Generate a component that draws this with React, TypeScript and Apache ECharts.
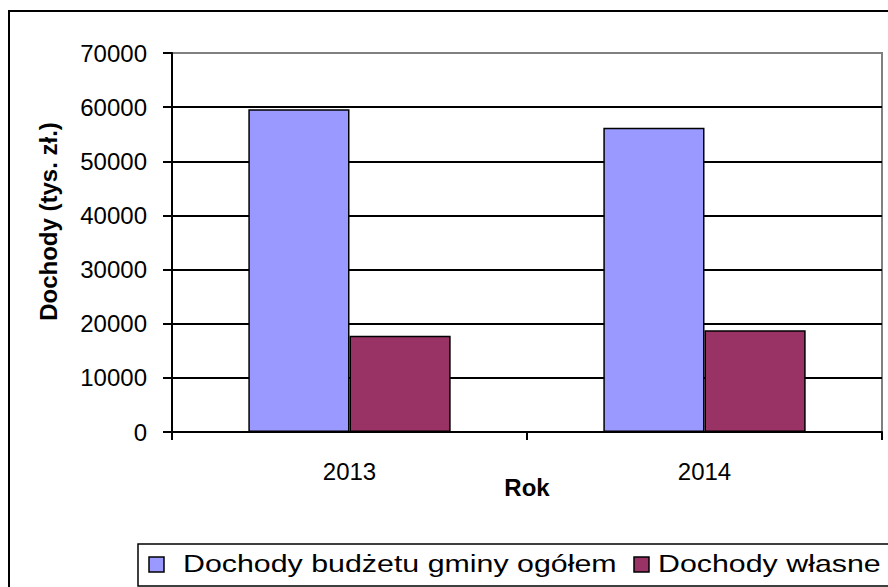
import React, { useEffect, useRef } from "react";
import * as echarts from "echarts";

const categories = ["2013", "2014"];
const seriesNames = ["Dochody budżetu gminy ogółem", "Dochody własne"];
const totalIncome = [59600, 56200];
const ownIncome = [17800, 18800];
const yTicks = { min: 0, max: 70000, interval: 10000 };
const colors = ["#9999FF", "#993366"];

export default function App() {
  const ref = useRef<HTMLDivElement>(null);
  useEffect(() => {
    if (!ref.current) return;
    const chart = echarts.init(ref.current, undefined, { renderer: "svg" });
    const font = "'Liberation Sans', Arial, sans-serif";
    const legendScale = 1.265;
    const option: any = {
      animation: false,
      backgroundColor: "#fff",
      textStyle: { fontFamily: font },
      grid: {
        left: 172,
        right: 6,
        top: 53,
        bottom: 155,
        show: true,
        borderColor: "#808080",
        borderWidth: 2,
        backgroundColor: "transparent",
      },
      xAxis: {
        type: "category",
        data: categories,
        name: "Rok",
        nameLocation: "middle",
        nameGap: 43,
        nameMoveOverlap: false,
        nameTextStyle: { fontFamily: font, fontSize: 24, fontWeight: "bold", color: "#000" },
        axisLine: { lineStyle: { color: "#000", width: 2 } },
        axisTick: { show: true, length: 8, lineStyle: { color: "#000", width: 2 } },
        axisLabel: { fontFamily: font, fontSize: 24, color: "#000", margin: 27 },
        splitLine: { show: false },
      },
      yAxis: {
        type: "value",
        min: yTicks.min,
        max: yTicks.max,
        interval: yTicks.interval,
        name: "Dochody (tys. zł.)",
        nameLocation: "middle",
        nameGap: 112,
        nameRotate: 90,
        nameTextStyle: {
          fontFamily: font,
          fontSize: 24,
          fontWeight: "bold",
          color: "#000",
          padding: [0, 0, 0, 42],
        },
        axisLine: { show: true, lineStyle: { color: "#000", width: 2 } },
        axisTick: { show: true, length: 9, inside: false, lineStyle: { color: "#000", width: 2 } },
        axisLabel: {
          fontFamily: font,
          fontSize: 24,
          color: "#000",
          margin: 25,
          formatter: (v: number) => String(v),
        },
        splitLine: {
          show: true,
          lineStyle: {
            color: ["#000", "#000", "#000", "#000", "#000", "#000", "#000", "#808080"],
            width: 2,
          },
        },
      },
      series: [
        {
          name: seriesNames[0],
          type: "bar",
          data: totalIncome,
          barGap: "0%",
          barCategoryGap: "43%",
          itemStyle: { color: colors[0], borderColor: "#000", borderWidth: 1.5 },
        },
        {
          name: seriesNames[1],
          type: "bar",
          data: ownIncome,
          barGap: "0%",
          barCategoryGap: "43%",
          itemStyle: { color: colors[1], borderColor: "#000", borderWidth: 1.5 },
        },
      ],
      graphic: [
        {
          type: "rect",
          shape: { x: 9, y: 11, width: 1000, height: 1000 },
          style: { fill: "none", stroke: "#000", lineWidth: 2 },
          z: 100,
        },
        {
          type: "rect",
          shape: { x: 138, y: 544, width: 1000, height: 42 },
          style: { fill: "#fff", stroke: "#000", lineWidth: 1.5 },
          z: 100,
        },
        {
          type: "rect",
          shape: { x: 149, y: 557, width: 15, height: 15 },
          style: { fill: colors[0], stroke: "#000", lineWidth: 1.5 },
          z: 101,
        },
        {
          type: "text",
          x: 183,
          y: 564,
          scaleX: legendScale,
          style: {
            text: seriesNames[0],
            fontFamily: font,
            fontSize: 24,
            fill: "#000",
            textAlign: "left",
            textVerticalAlign: "middle",
          },
          z: 101,
        },
        {
          type: "rect",
          shape: { x: 634, y: 557, width: 15, height: 15 },
          style: { fill: colors[1], stroke: "#000", lineWidth: 1.5 },
          z: 101,
        },
        {
          type: "text",
          x: 658,
          y: 564,
          scaleX: legendScale,
          style: {
            text: seriesNames[1],
            fontFamily: font,
            fontSize: 24,
            fill: "#000",
            textAlign: "left",
            textVerticalAlign: "middle",
          },
          z: 101,
        },
      ],
    };
    chart.setOption(option);
    return () => chart.dispose();
  }, []);
  return (
    <div
      ref={ref}
      style={{ position: "fixed", left: 0, top: 0, width: 888, height: 587, background: "#fff" }}
    />
  );
}
